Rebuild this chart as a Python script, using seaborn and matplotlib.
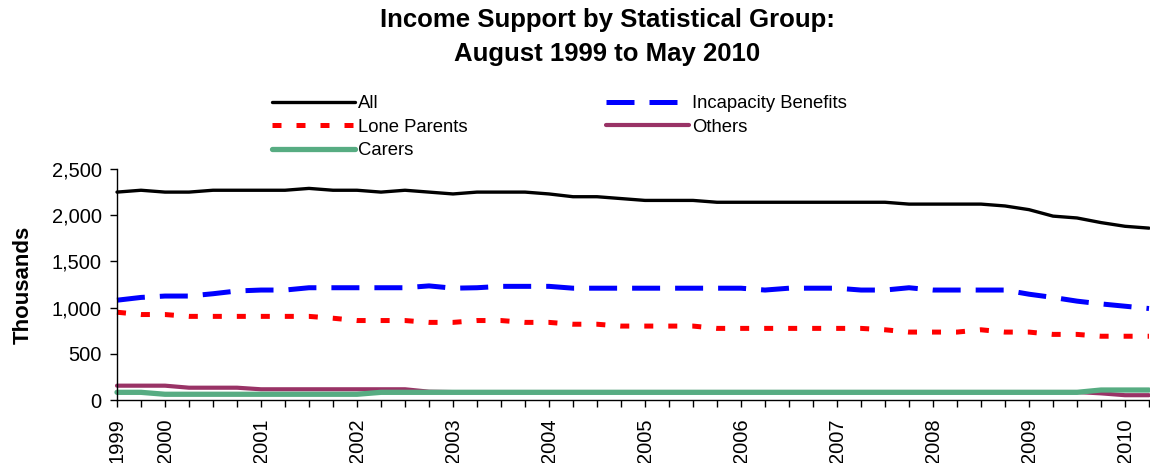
import matplotlib
matplotlib.use("Agg")
import matplotlib.pyplot as plt
import seaborn as sns
import pandas as pd
import numpy as np

# Quarterly observations, August 1999 to May 2010 (thousands of claimants)
quarters = pd.period_range("1999Q3", "2010Q2", freq="Q")
all_claimants = [2250, 2270, 2250, 2250, 2270, 2270, 2270, 2270, 2290, 2270, 2270,
                 2250, 2270, 2250, 2230, 2250, 2250, 2250, 2230, 2200, 2200, 2180,
                 2160, 2160, 2160, 2140, 2140, 2140, 2140, 2140, 2140, 2140, 2140,
                 2120, 2120, 2120, 2120, 2100, 2060, 1990, 1970, 1920, 1880, 1860]
incapacity = [1080, 1110, 1125, 1125, 1150, 1180, 1190, 1190, 1215, 1215, 1215,
              1215, 1215, 1235, 1210, 1215, 1230, 1230, 1230, 1210, 1210, 1210,
              1210, 1210, 1210, 1210, 1210, 1190, 1210, 1210, 1210, 1190, 1190,
              1215, 1190, 1190, 1190, 1190, 1145, 1110, 1070, 1040, 1015, 990]
lone_parents = [950, 925, 925, 905, 905, 905, 905, 905, 905, 885, 860,
                860, 860, 840, 840, 860, 860, 840, 840, 820, 820, 800,
                800, 800, 800, 775, 775, 775, 775, 775, 775, 775, 760,
                735, 735, 735, 760, 735, 735, 710, 710, 690, 690, 690]
others = [155, 155, 155, 133, 133, 133, 116, 116, 116, 116, 116,
          116, 116, 90, 86, 86, 86, 86, 86, 86, 86, 86,
          86, 86, 86, 86, 86, 86, 86, 86, 86, 86, 86,
          86, 86, 86, 86, 86, 86, 86, 86, 72, 52, 52]
carers = [83, 83, 62, 62, 62, 62, 62, 62, 62, 62, 62,
          83, 83, 83, 83, 83, 83, 83, 83, 83, 83, 83,
          83, 83, 83, 83, 83, 83, 83, 83, 83, 83, 83,
          83, 83, 83, 83, 83, 83, 83, 83, 108, 108, 108]

year_labels = ["1999", "2000", "2001", "2002", "2003", "2004", "2005",
               "2006", "2007", "2008", "2009", "2010"]

sns.set_style("ticks")
plt.rcParams["font.family"] = ["Liberation Sans", "DejaVu Sans"]
plt.rcParams.update({"text.color": "black", "axes.labelcolor": "black",
                     "xtick.color": "black", "ytick.color": "black"})

pos = np.arange(len(quarters))
df = pd.DataFrame({
    "pos": pos,
    "All": all_claimants,
    "Incapacity Benefits": incapacity,
    "Lone Parents": lone_parents,
    "Others": others,
    "Carers": carers,
})

fig = plt.figure(figsize=(11.5, 4.63), dpi=100)
ax = fig.add_axes([117 / 1150, 1 - 400 / 463, (1149 - 117) / 1150, (400 - 169) / 463])

styles = {
    "All": dict(color="black", lw=2.4, ls="-"),
    "Incapacity Benefits": dict(color="#0000FF", lw=3.6, ls=(0, (5.6, 3.0))),
    "Lone Parents": dict(color="#FF0000", lw=3.6, ls=(0, (1.8, 3.0))),
    "Others": dict(color="#993366", lw=3.0, ls="-"),
    "Carers": dict(color="#57AC82", lw=3.8, ls="-"),
}
lines = {}
for name in ["All", "Incapacity Benefits", "Lone Parents", "Others", "Carers"]:
    st = styles[name]
    sns.lineplot(data=df, x="pos", y=name, ax=ax, color=st["color"],
                 linewidth=st["lw"], linestyle=st["ls"], label=name,
                 legend=False)
    lines[name] = ax.get_lines()[-1]
    lines[name].set_dash_capstyle("butt")
    lines[name].set_clip_on(False)

ax.set_xlim(0, len(quarters) - 1)
ax.set_ylim(0, 2500)
ax.set_yticks(np.arange(0, 2501, 500))
ax.set_yticklabels([f"{v:,}" for v in range(0, 2501, 500)], fontsize=14.5)

# tick at every quarter, year labels at the start and each February
label_pos = [0] + list(range(2, len(quarters), 4))
ax.set_xticks(pos)
tick_text = [""] * len(pos)
for p, lab in zip(label_pos, year_labels):
    tick_text[p] = lab
ax.set_xticklabels(tick_text, rotation=90, fontsize=14.5)
ax.tick_params(axis="x", length=5, width=1, direction="out", pad=8)
ax.tick_params(axis="y", length=5, width=1, direction="out", pad=6)
ax.set_xlabel("")
ax.set_ylabel("Thousands", fontsize=16, fontweight="bold", labelpad=13)

sns.despine(ax=ax)
for sp in ["left", "bottom"]:
    ax.spines[sp].set_color("black")
    ax.spines[sp].set_linewidth(1.0)

order = ["All", "Lone Parents", "Carers", "Incapacity Benefits", "Others"]
fig.legend([lines[n] for n in order], order, loc="upper left",
           bbox_to_anchor=(272 / 1150, 1 - 95 / 463), ncol=2, frameon=False,
           fontsize=13.3, handlelength=4.5, handletextpad=0.15,
           columnspacing=7.5, labelspacing=0.36, borderpad=0, borderaxespad=0)

fig.text(607 / 1150, 1 - 8 / 463,
         "Income Support by Statistical Group:\nAugust 1999 to May 2010",
         ha="center", va="top", fontsize=18.5, fontweight="bold",
         linespacing=1.55)

fig.savefig("out.png", dpi=100)
